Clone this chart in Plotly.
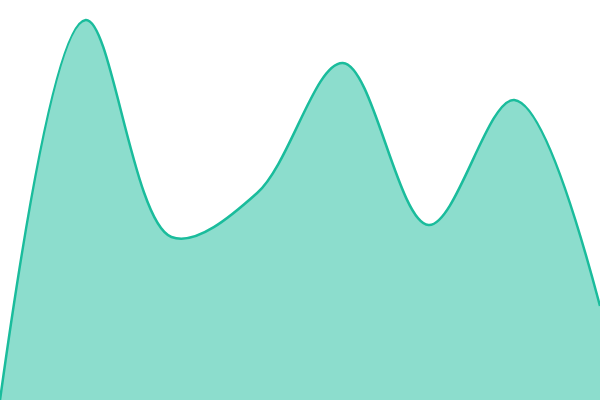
import plotly.graph_objects as go

# data points
x_vals = [0, 1, 2, 3, 4, 5, 6, 7]
y_vals = [0, 380, 163, 207, 337, 175, 300, 94]

fig = go.Figure(go.Scatter(
    x=x_vals, y=y_vals, mode='lines',
    line=dict(color='#1abc9c', width=2.5, shape='spline', smoothing=1),
    fill='tozeroy', fillcolor='rgba(26,188,156,0.5)',
))
fig.update_layout(
    width=600, height=400, margin=dict(l=0, r=0, t=0, b=0),
    paper_bgcolor='white', plot_bgcolor='white', showlegend=False,
)
fig.update_xaxes(visible=False, range=[0, 7])
fig.update_yaxes(visible=False, range=[0, 400])
# drop the browser's default body margin so the chart sits flush
fig.write_html("out.html", config={'displayModeBar': False},
               post_script="document.body.style.margin='0';")
